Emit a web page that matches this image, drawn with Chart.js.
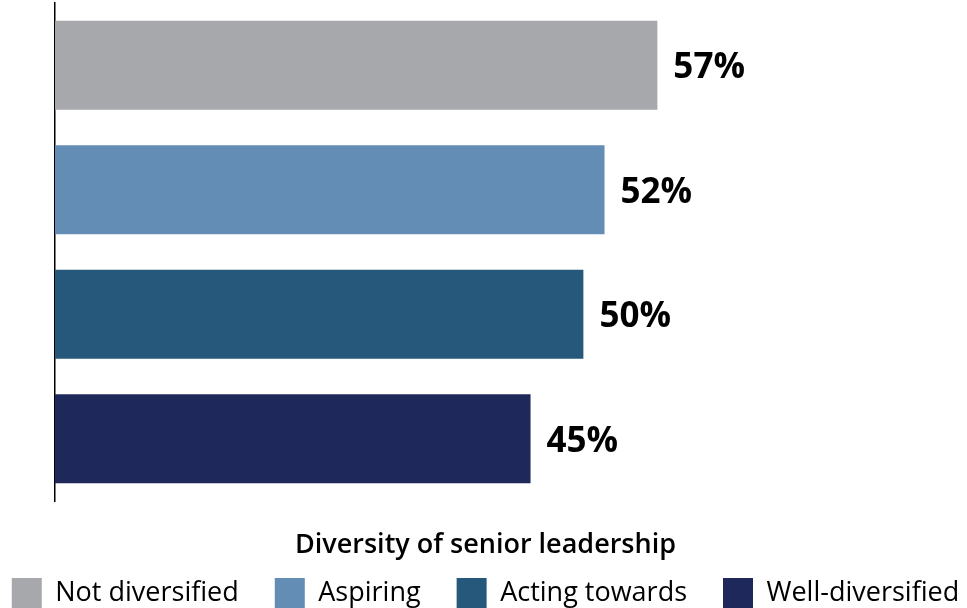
<!DOCTYPE html>
<html>
<head>
<meta charset="utf-8">
<script src="https://cdn.jsdelivr.net/npm/chart.js@4/dist/chart.umd.min.js"></script>
<style>
  html, body { margin: 0; padding: 0; background: #fff; overflow: hidden; }
  canvas { display: block; }
</style>
</head>
<body>
<canvas id="leadershipChart" width="967" height="618"></canvas>
<script>
  // Share of firms by diversity of senior leadership
  var categories = ['Not diversified', 'Aspiring', 'Acting towards', 'Well-diversified'];
  var values = [57, 52, 50, 45];
  var colors = ['#a7a8ac', '#638db5', '#25587a', '#1f285a'];
  var legendTitle = 'Diversity of senior leadership';

  // writes "57%" etc. just past the end of each bar
  var valueLabels = {
    id: 'valueLabels',
    afterDatasetsDraw: function(chart) {
      var ctx = chart.ctx;
      var meta = chart.getDatasetMeta(0);
      ctx.save();
      ctx.font = 'bold 35px "Open Sans"';
      ctx.fillStyle = '#000';
      ctx.textAlign = 'left';
      ctx.textBaseline = 'middle';
      meta.data.forEach(function(bar, i) {
        ctx.fillText(values[i] + '%', bar.x + 16, bar.y + 3);
      });
      ctx.restore();
    }
  };

  var ctx = document.getElementById('leadershipChart').getContext('2d');
  var leadershipChart = new Chart(ctx, {
    type: 'bar',
    data: {
      labels: categories,
      datasets: [{
        data: values,
        backgroundColor: colors,
        barPercentage: 0.716,
        categoryPercentage: 1
      }]
    },
    options: {
      indexAxis: 'y',
      responsive: false,
      animation: false,
      // negative sides give the one-row legend the full canvas width
      layout: {
        padding: { left: -28, right: -32, top: 3, bottom: 0 }
      },
      scales: {
        x: {
          display: false,
          min: 0,
          max: 86.3
        },
        y: {
          ticks: { display: false },
          grid: { display: false },
          border: { display: true, color: '#000', width: 1.5 },
          afterFit: function(scale) { scale.width = 83; }
        }
      },
      plugins: {
        tooltip: { enabled: false },
        legend: {
          position: 'bottom',
          title: {
            display: true,
            text: legendTitle,
            color: '#000',
            font: { family: '"Open Sans"', size: 27, weight: 600 },
            padding: { top: 31, bottom: -22.4 }
          },
          labels: {
            boxWidth: 30,
            boxHeight: 30,
            padding: 36,
            color: '#111',
            font: { family: '"Open Sans"', size: 27 },
            generateLabels: function() {
              return categories.map(function(name, i) {
                return {
                  text: name,
                  fillStyle: colors[i],
                  strokeStyle: colors[i],
                  lineWidth: 0,
                  hidden: false,
                  index: i
                };
              });
            }
          }
        }
      }
    },
    plugins: [valueLabels]
  });
</script>
</body>
</html>
